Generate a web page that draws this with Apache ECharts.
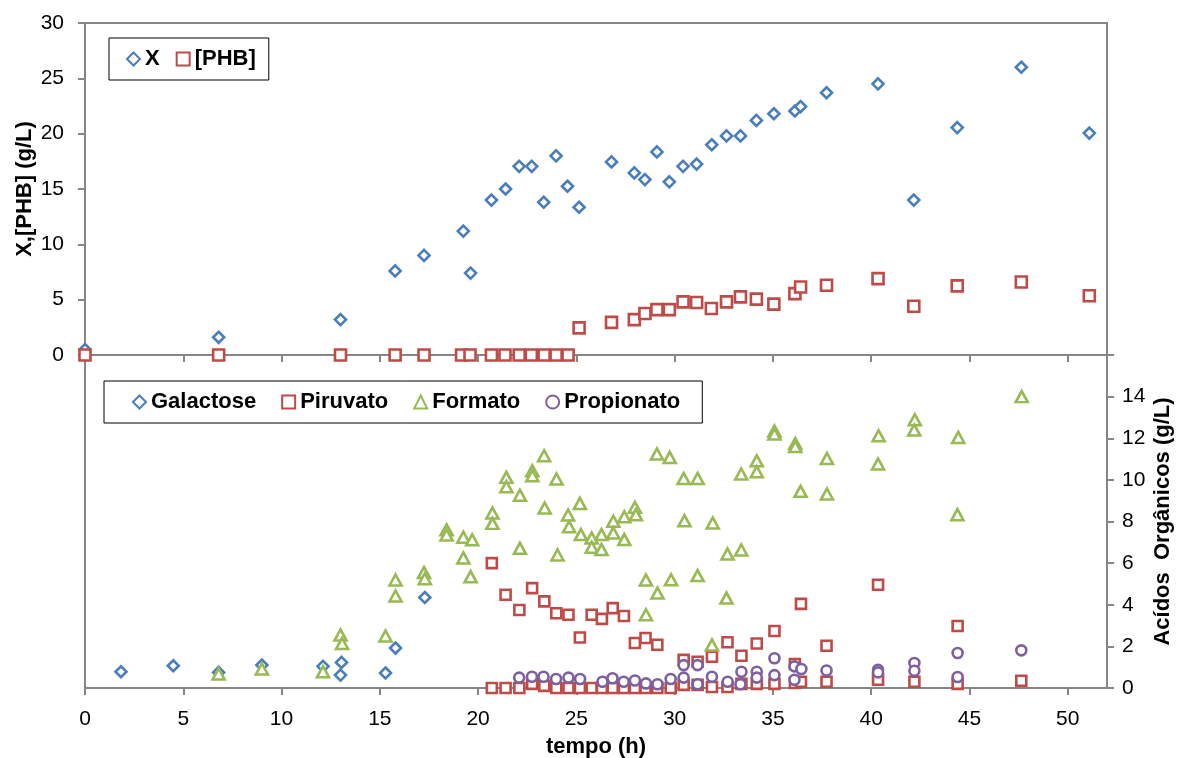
<!DOCTYPE html>
<html>
<head>
<meta charset="utf-8">
<script src="https://cdn.jsdelivr.net/npm/echarts@6/dist/echarts.min.js"></script>
<style>
  html, body { margin: 0; padding: 0; background: #fff; }
  #chart { width: 1178px; height: 758px; }
</style>
</head>
<body>
<div id="chart"></div>
<script>
// Fermentation run: biomass / PHB (top panel) and substrate / organic acids (bottom panel)
// Each series: [tempo (h), concentração (g/L)]
const biomassX = [
  [0, 0.5], [6.8, 1.6], [13.0, 3.2], [15.78, 7.6], [17.25, 9.0], [19.25, 11.2], [19.62, 7.4],
  [20.68, 14.0], [21.4, 15.0], [22.09, 17.05], [22.73, 17.05], [23.34, 13.8], [23.97, 18.0],
  [24.55, 15.25], [25.14, 13.35], [26.79, 17.45], [27.95, 16.45], [28.49, 15.85], [29.1, 18.35],
  [29.73, 15.65], [30.43, 17.05], [31.12, 17.25], [31.89, 19.0], [32.64, 19.8], [33.35, 19.8],
  [34.16, 21.2], [35.05, 21.8], [36.12, 22.05], [36.41, 22.45], [37.73, 23.7], [40.35, 24.5],
  [42.17, 14.0], [44.38, 20.55], [47.64, 26.0], [51.1, 20.05]
];
const phb = [
  [0, 0], [6.8, 0], [13.0, 0], [15.78, 0], [17.25, 0], [19.16, 0], [19.59, 0], [20.68, 0],
  [21.37, 0], [22.09, 0], [22.71, 0], [23.36, 0], [23.97, 0], [24.58, 0], [25.14, 2.45],
  [26.79, 2.95], [27.95, 3.2], [28.49, 3.75], [29.1, 4.1], [29.73, 4.1], [30.43, 4.8],
  [31.12, 4.75], [31.87, 4.2], [32.64, 4.8], [33.35, 5.25], [34.16, 5.05], [35.05, 4.6],
  [36.12, 5.55], [36.41, 6.15], [37.73, 6.3], [40.35, 6.9], [42.17, 4.4], [44.38, 6.25],
  [47.64, 6.6], [51.1, 5.35]
];
const galactose = [
  [1.83, 0.78], [4.49, 1.07], [6.8, 0.75], [9.0, 1.1], [12.11, 1.04], [13.05, 1.23],
  [13.0, 0.62], [15.29, 0.72], [15.8, 1.92], [17.29, 4.35]
];
const piruvato = [
  [20.7, 6.0], [20.7, 0], [21.4, 4.48], [21.4, 0], [22.1, 3.75], [22.1, 0], [22.75, 4.8],
  [22.75, 0.2], [23.37, 4.16], [23.37, 0.1], [23.98, 3.59], [23.98, 0], [24.6, 3.52], [24.6, 0],
  [25.18, 2.43], [25.18, 0], [25.78, 3.52], [25.78, 0], [26.3, 3.32], [26.3, 0], [26.85, 3.84],
  [26.85, 0], [27.42, 3.46], [27.42, 0], [27.98, 2.16], [27.98, 0], [28.52, 2.4], [28.52, 0],
  [29.12, 2.08], [29.12, 0], [29.8, 0], [30.46, 1.35], [30.46, 0.15], [31.17, 1.26],
  [31.17, 0.15], [31.9, 1.5], [31.9, 0.05], [32.69, 2.2], [32.69, 0.05], [33.4, 1.55],
  [33.4, 0.2], [34.18, 2.14], [34.18, 0.2], [35.08, 2.74], [35.08, 0.2], [36.12, 1.15],
  [36.12, 0.24], [36.43, 4.04], [36.43, 0.3], [37.73, 2.03], [37.73, 0.3], [40.35, 4.96],
  [40.35, 0.4], [42.2, 0.3], [44.4, 2.98], [44.4, 0.2], [47.64, 0.35]
];
const formato = [
  [6.8, 0.67], [9.0, 0.91], [12.11, 0.78], [13.0, 2.55], [13.08, 2.14], [15.29, 2.5],
  [15.8, 5.19], [15.8, 4.42], [17.25, 5.55], [17.29, 5.25], [18.4, 7.6], [18.4, 7.35],
  [19.25, 7.24], [19.7, 7.12], [19.25, 6.25], [19.62, 5.35], [20.73, 8.41], [20.73, 7.91],
  [21.44, 10.12], [21.44, 9.67], [22.13, 9.26], [22.13, 6.71], [22.76, 10.44], [22.76, 10.2],
  [23.36, 11.16], [23.39, 8.65], [23.99, 10.04], [24.04, 6.39], [24.58, 8.31], [24.63, 7.75],
  [25.18, 8.87], [25.23, 7.37], [25.78, 7.21], [25.78, 6.76], [26.28, 7.37], [26.28, 6.65],
  [26.88, 8.01], [26.88, 7.45], [27.44, 8.23], [27.44, 7.13], [27.98, 8.68], [28.03, 8.33],
  [28.54, 5.19], [28.54, 3.52], [29.1, 11.24], [29.13, 4.56], [29.75, 11.08], [29.82, 5.2],
  [30.46, 10.07], [30.5, 8.04], [31.17, 10.07], [31.17, 5.4], [31.94, 7.93], [31.9, 2.07],
  [32.69, 6.44], [32.64, 4.32], [33.39, 10.28], [33.39, 6.63], [34.18, 10.92], [34.18, 10.39],
  [35.08, 12.35], [35.08, 12.2], [36.14, 11.75], [36.14, 11.6], [36.41, 9.45], [37.75, 11.03],
  [37.75, 9.32], [40.38, 12.12], [40.35, 10.76], [42.22, 12.89], [42.19, 12.4], [44.43, 12.04],
  [44.39, 8.33], [47.66, 14.0]
];
const propionato = [
  [22.09, 0.5], [22.74, 0.54], [23.33, 0.54], [23.97, 0.43], [24.6, 0.5], [25.19, 0.43],
  [26.33, 0.3], [26.84, 0.47], [27.41, 0.3], [27.98, 0.36], [28.54, 0.22], [29.13, 0.18],
  [29.8, 0.43], [30.46, 0.5], [30.46, 1.1], [31.17, 1.1], [31.17, 0.18], [31.9, 0.54],
  [32.7, 0.3], [33.35, 0.18], [33.4, 0.78], [34.18, 0.78], [34.18, 0.5], [35.08, 1.43],
  [35.08, 0.62], [36.1, 1.04], [36.1, 0.4], [36.45, 0.91], [37.73, 0.84], [40.35, 0.88],
  [40.35, 0.75], [42.2, 1.2], [42.2, 0.83], [44.4, 1.68], [44.4, 0.53], [47.64, 1.81]
];

// Axis ticks and labels
const timeTicks = [0, 5, 10, 15, 20, 25, 30, 35, 40, 45, 50];
const acidTicks = [0, 2, 4, 6, 8, 10, 12, 14, 16];
const acidLabels = [0, 2, 4, 6, 8, 10, 12, 14];

const AXIS = '#868686';
const FONT = "'Liberation Sans', Arial, Helvetica, sans-serif";
const BLUE = '#4A7EBB', RED = '#BE4B48', GREEN = '#98B954', PURPLE = '#7D60A0';

const axisLine = { show: true, onZero: false, lineStyle: { color: AXIS, width: 2 } };
const tickStyle = { color: AXIS, width: 2 };
const labelText = { fontSize: 21, color: '#000', fontFamily: FONT };
const titleText = { fontSize: 22, fontWeight: 'bold', color: '#000', fontFamily: FONT };

function hollow(color, width) {
  return { color: '#fff', borderColor: color, borderWidth: width, opacity: 1 };
}

const chart = echarts.init(document.getElementById('chart'), null, { renderer: 'canvas' });

chart.setOption({
  animation: false,
  backgroundColor: '#fff',
  textStyle: { fontFamily: FONT },
  grid: [
    { left: 85, right: 71, top: 23, height: 332, show: true, borderColor: AXIS, borderWidth: 2,
      backgroundColor: 'transparent', containLabel: false, outerBoundsMode: 'none' },
    { left: 85, right: 71, top: 355, height: 333, containLabel: false, outerBoundsMode: 'none' }
  ],
  xAxis: [
    {
      gridIndex: 0, type: 'value', min: 0, max: 52,
      axisLine: axisLine,
      axisTick: { show: true, inside: false, length: 7, lineStyle: tickStyle, customValues: timeTicks },
      axisLabel: { show: false },
      splitLine: { show: false }
    },
    {
      gridIndex: 1, type: 'value', min: 0, max: 52,
      axisLine: axisLine,
      axisTick: { show: true, inside: false, length: 7, lineStyle: tickStyle, customValues: timeTicks },
      axisLabel: Object.assign({ show: true, margin: 21, customValues: timeTicks }, labelText),
      splitLine: { show: false },
      name: 'tempo (h)', nameLocation: 'middle', nameGap: 48, nameMoveOverlap: false,
      nameTextStyle: titleText
    }
  ],
  yAxis: [
    {
      gridIndex: 0, type: 'value', position: 'left', min: 0, max: 30, interval: 5,
      axisLine: axisLine,
      axisTick: { show: true, inside: false, length: 7, lineStyle: tickStyle },
      axisLabel: Object.assign({ show: true, margin: 21 }, labelText),
      splitLine: { show: false },
      name: 'X,[PHB] (g/L)', nameLocation: 'middle', nameRotate: 90, nameGap: 49,
      nameMoveOverlap: false, nameTextStyle: titleText
    },
    {
      gridIndex: 1, type: 'value', position: 'right', min: 0, max: 16,
      axisLine: axisLine,
      axisTick: { show: true, inside: false, length: 7, lineStyle: tickStyle, customValues: acidTicks },
      axisLabel: Object.assign({ show: true, margin: 15, customValues: acidLabels }, labelText),
      splitLine: { show: false },
      name: 'Acídos  Orgânicos (g/L)', nameLocation: 'middle', nameRotate: 90, nameGap: 45,
      nameMoveOverlap: false, nameTextStyle: titleText
    },
    {
      gridIndex: 1, type: 'value', position: 'left', min: 0, max: 16,
      axisLine: axisLine,
      axisTick: { show: false }, axisLabel: { show: false }, splitLine: { show: false }
    }
  ],
  legend: [
    {
      data: ['X', '[PHB]'], left: 109, top: 38, orient: 'horizontal',
      padding: [10, 13, 10, 17], itemGap: 16, itemWidth: 13, itemHeight: 13,
      borderColor: '#000', borderWidth: 1, backgroundColor: '#fff',
      textStyle: titleText, selectedMode: false
    },
    {
      data: ['Galactose', 'Piruvato', 'Formato', 'Propionato'], left: 104, top: 381,
      orient: 'horizontal', padding: [10, 22, 10, 28], itemGap: 25, itemWidth: 13, itemHeight: 13,
      borderColor: '#000', borderWidth: 1, backgroundColor: '#fff',
      textStyle: titleText, selectedMode: false
    }
  ],
  series: [
    { name: 'X', type: 'scatter', xAxisIndex: 0, yAxisIndex: 0, data: biomassX,
      symbol: 'diamond', symbolSize: 11, itemStyle: hollow(BLUE, 2.6), silent: true },
    { name: '[PHB]', type: 'scatter', xAxisIndex: 0, yAxisIndex: 0, data: phb,
      symbol: 'rect', symbolSize: 11, itemStyle: hollow(RED, 2.6), silent: true },
    { name: 'Galactose', type: 'scatter', xAxisIndex: 1, yAxisIndex: 1, data: galactose,
      symbol: 'diamond', symbolSize: 11, itemStyle: hollow(BLUE, 2.6), silent: true },
    { name: 'Piruvato', type: 'scatter', xAxisIndex: 1, yAxisIndex: 1, data: piruvato,
      symbol: 'rect', symbolSize: 10, itemStyle: hollow(RED, 2.6), silent: true },
    { name: 'Formato', type: 'scatter', xAxisIndex: 1, yAxisIndex: 1, data: formato,
      symbol: 'triangle', symbolSize: [12, 11], itemStyle: hollow(GREEN, 2.6), silent: true },
    { name: 'Propionato', type: 'scatter', xAxisIndex: 1, yAxisIndex: 1, data: propionato,
      symbol: 'circle', symbolSize: 10, itemStyle: hollow(PURPLE, 2.6), silent: true }
  ]
});
</script>
</body>
</html>
